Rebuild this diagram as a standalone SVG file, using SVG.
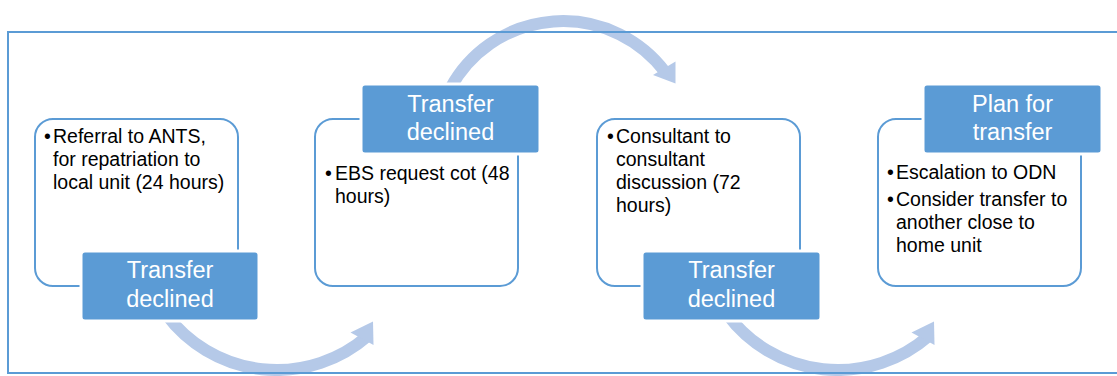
<svg xmlns="http://www.w3.org/2000/svg" width="1117" height="376" viewBox="0 0 1117 376">
  <defs>
    <style>
      .band { fill: none; stroke: #B5C9E8; stroke-width: 12; }
      .head { fill: #B5C9E8; }
      .frame { fill: none; stroke: #5B9BD5; stroke-width: 2; }
      .box { fill: #FFFFFF; stroke: #5B9BD5; stroke-width: 2; }
      .label { fill: #5B9BD5; stroke: #FFFFFF; stroke-width: 3; }
      .body { font-family: "Liberation Sans", Arial, sans-serif; font-size: 19.5px; fill: #000000; }
      .lt { font-family: "Liberation Sans", Arial, sans-serif; font-size: 23.5px; fill: #FFFFFF; text-anchor: middle; }
    </style>
    <g id="bottomArrow">
      <path class="band" d="M 166 314 A 138 138 0 0 0 367.7 336"/>
      <polygon class="head" points="350.5,332.5 373,321.5 373.5,345"/>
    </g>
  </defs>

  <rect x="0" y="0" width="1117" height="376" fill="#FFFFFF"/>

  <g id="connectors">
    <use href="#bottomArrow"/>
    <g id="arrow-top">
      <path class="band" d="M 450.5 88 A 128 128 0 0 1 665.2 72"/>
      <polygon class="head" points="653,75 675.5,61.5 675.5,83.5"/>
    </g>
    <use href="#bottomArrow" transform="translate(561,0)"/>
  </g>

  <rect class="frame" x="8" y="32" width="1130" height="341"/>

  <g id="node1">
    <rect class="box" x="35" y="119" width="203" height="167" rx="18" ry="18"/>
    <text class="body" x="44" y="143">•</text>
    <text class="body" x="53" y="143">Referral to ANTS,</text>
    <text class="body" x="53" y="166">for repatriation to</text>
    <text class="body" x="53" y="189">local unit (24 hours)</text>
    <rect class="label" x="81" y="251" width="178" height="70" rx="4" ry="4"/>
    <text class="lt" x="170" y="278">Transfer</text>
    <text class="lt" x="170" y="307">declined</text>
  </g>

  <g id="node2">
    <rect class="box" x="315" y="119" width="203" height="167" rx="18" ry="18"/>
    <text class="body" x="325" y="180">•</text>
    <text class="body" x="335" y="180">EBS request cot (48</text>
    <text class="body" x="335" y="203">hours)</text>
    <rect class="label" x="361" y="84" width="179" height="70" rx="4" ry="4"/>
    <text class="lt" x="450.5" y="111.5">Transfer</text>
    <text class="lt" x="450.5" y="140">declined</text>
  </g>

  <g id="node3">
    <rect class="box" x="597" y="119" width="203" height="167" rx="18" ry="18"/>
    <text class="body" x="607" y="143">•</text>
    <text class="body" x="616" y="143">Consultant to</text>
    <text class="body" x="616" y="166">consultant</text>
    <text class="body" x="616" y="189">discussion (72</text>
    <text class="body" x="616" y="212">hours)</text>
    <rect class="label" x="642" y="251" width="179" height="70" rx="4" ry="4"/>
    <text class="lt" x="731.5" y="278">Transfer</text>
    <text class="lt" x="731.5" y="307">declined</text>
  </g>

  <g id="node4">
    <rect class="box" x="878" y="119" width="203" height="167" rx="18" ry="18"/>
    <text class="body" x="887" y="179">•</text>
    <text class="body" x="896" y="179">Escalation to ODN</text>
    <text class="body" x="887" y="206">•</text>
    <text class="body" x="896" y="206">Consider transfer to</text>
    <text class="body" x="896" y="229">another close to</text>
    <text class="body" x="896" y="252">home unit</text>
    <rect class="label" x="923" y="84" width="179" height="70" rx="4" ry="4"/>
    <text class="lt" x="1012.5" y="111.5">Plan for</text>
    <text class="lt" x="1012.5" y="140">transfer</text>
  </g>
</svg>
